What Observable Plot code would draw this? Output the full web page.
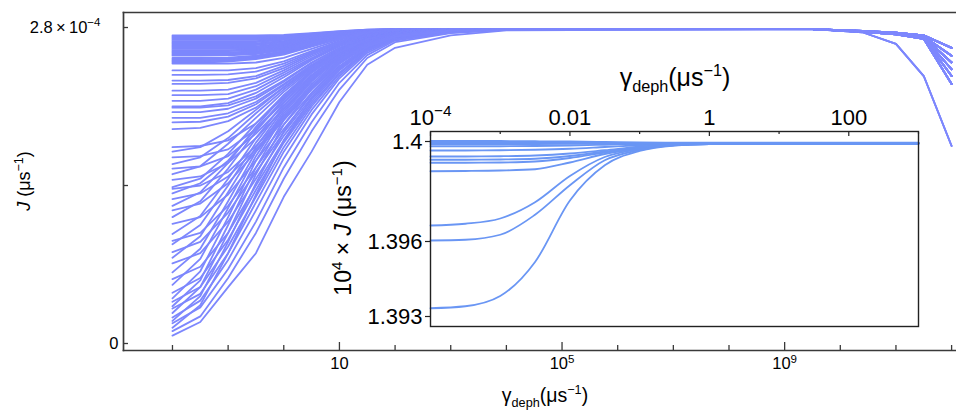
<!DOCTYPE html>
<html>
<head>
<meta charset="utf-8">
<script src="https://cdn.jsdelivr.net/npm/d3@7"></script>
<script src="https://cdn.jsdelivr.net/npm/@observablehq/plot@0.6"></script>
<style>
  html, body { margin: 0; padding: 0; background: #fff; }
  #wrap { position: relative; width: 956px; height: 410px; font-family: "Liberation Sans", Arial, Helvetica, sans-serif; }
  #wrap svg { position: absolute; left: 0; top: 0; overflow: visible; }
</style>
</head>
<body>
<div id="wrap"></div>
<script>
// ---------------- MAIN PANEL DATA (J in units of 1e-4 µs^-1) ----------------
const riseX = [0.01, 0.0316, 0.1, 0.316, 1, 3.16, 10, 31.6, 100, 1000, 10000];
const tailX = [3.16e9, 2.5e10, 1e11, 3.16e11, 1e12];

const highCurves = [
  [2.73,2.73,2.73,2.73,2.735,2.75,2.767,2.78,2.785,2.785,2.785],
  [2.72,2.72,2.72,2.72,2.727,2.745,2.765,2.78,2.785,2.785,2.785],
  [2.71,2.71,2.71,2.71,2.72,2.74,2.762,2.778,2.785,2.785,2.785],
  [2.70,2.70,2.70,2.70,2.712,2.735,2.76,2.777,2.785,2.785,2.785],
  [2.69,2.69,2.69,2.69,2.705,2.73,2.757,2.776,2.785,2.785,2.785],
  [2.68,2.68,2.68,2.68,2.698,2.725,2.755,2.775,2.785,2.785,2.785],
  [2.67,2.67,2.67,2.67,2.69,2.72,2.752,2.774,2.783,2.785,2.785],
  [2.66,2.66,2.66,2.66,2.682,2.715,2.75,2.773,2.783,2.785,2.785],
  [2.65,2.65,2.65,2.652,2.675,2.71,2.747,2.772,2.782,2.785,2.785],
  [2.64,2.64,2.64,2.643,2.668,2.705,2.745,2.771,2.782,2.785,2.785],
  [2.63,2.63,2.63,2.633,2.66,2.70,2.742,2.77,2.781,2.785,2.785],
  [2.62,2.62,2.62,2.624,2.652,2.695,2.74,2.769,2.781,2.785,2.785],
  [2.61,2.61,2.61,2.615,2.645,2.69,2.737,2.768,2.78,2.785,2.785],
  [2.60,2.60,2.60,2.606,2.638,2.685,2.735,2.767,2.78,2.785,2.785],
  [2.59,2.59,2.59,2.597,2.63,2.68,2.732,2.766,2.78,2.785,2.785],
  [2.58,2.58,2.58,2.588,2.622,2.675,2.73,2.765,2.78,2.785,2.785],
  [2.57,2.57,2.572,2.58,2.615,2.67,2.727,2.764,2.78,2.785,2.785],
  [2.56,2.56,2.562,2.572,2.608,2.665,2.725,2.763,2.78,2.785,2.785],
  [2.55,2.55,2.553,2.565,2.60,2.66,2.722,2.762,2.779,2.785,2.785],
  [2.53,2.53,2.534,2.55,2.59,2.65,2.717,2.76,2.778,2.785,2.785],
  [2.52,2.52,2.525,2.542,2.582,2.645,2.714,2.758,2.778,2.785,2.785],
  [2.51,2.51,2.516,2.535,2.575,2.64,2.71,2.757,2.777,2.785,2.785],
  [2.50,2.50,2.507,2.527,2.568,2.635,2.706,2.755,2.777,2.785,2.785],
  [2.49,2.49,2.498,2.52,2.56,2.63,2.70,2.753,2.776,2.785,2.785]
];
const midCurves = [
  [2.48,2.48,2.48,2.49,2.53,2.61,2.69,2.745,2.77,2.785,2.785],
  [2.42,2.42,2.42,2.44,2.50,2.59,2.68,2.74,2.77,2.785,2.785],
  [2.38,2.38,2.385,2.41,2.48,2.58,2.675,2.735,2.77,2.785,2.785],
  [2.33,2.33,2.335,2.37,2.46,2.57,2.665,2.73,2.765,2.785,2.785],
  [2.30,2.30,2.31,2.35,2.44,2.56,2.66,2.73,2.765,2.785,2.785],
  [2.24,2.24,2.25,2.31,2.42,2.545,2.65,2.725,2.765,2.785,2.785],
  [2.20,2.20,2.21,2.28,2.40,2.53,2.645,2.72,2.76,2.785,2.785],
  [2.15,2.15,2.17,2.25,2.38,2.52,2.64,2.72,2.76,2.785,2.785],
  [2.10,2.10,2.13,2.22,2.36,2.51,2.635,2.715,2.76,2.785,2.785],
  [2.09,2.09,2.11,2.19,2.33,2.49,2.62,2.71,2.755,2.78,2.785],
  [2.05,2.05,2.08,2.17,2.32,2.485,2.62,2.71,2.755,2.78,2.785],
  [2.00,2.00,2.04,2.14,2.30,2.47,2.61,2.705,2.755,2.78,2.785],
  [1.96,1.965,2.01,2.12,2.29,2.46,2.605,2.70,2.755,2.78,2.785],
  [1.90,1.91,1.97,2.09,2.27,2.45,2.60,2.70,2.75,2.78,2.785]
];
const lowMidCurves = [
  [1.74,1.75,1.80,1.95,2.18,2.40,2.57,2.69,2.75,2.78,2.785],
  [1.70,1.74,1.88,2.07,2.27,2.45,2.60,2.70,2.75,2.78,2.785],
  [1.65,1.66,1.72,1.90,2.14,2.37,2.56,2.68,2.745,2.78,2.785],
  [1.59,1.65,1.82,2.04,2.25,2.44,2.59,2.695,2.75,2.78,2.785],
  [1.55,1.57,1.66,1.86,2.11,2.35,2.55,2.675,2.745,2.78,2.785],
  [1.50,1.57,1.77,2.00,2.23,2.43,2.585,2.69,2.75,2.78,2.785],
  [1.45,1.48,1.60,1.82,2.08,2.33,2.54,2.67,2.74,2.78,2.785],
  [1.385,1.46,1.68,1.95,2.20,2.41,2.58,2.69,2.745,2.78,2.785]
];
const lowCurves = [
  [1.37,1.40,1.52,1.75,2.02,2.28,2.50,2.65,2.73,2.775,2.785],
  [1.33,1.42,1.62,1.90,2.16,2.38,2.56,2.68,2.74,2.78,2.785],
  [1.28,1.33,1.48,1.72,2.00,2.27,2.49,2.645,2.73,2.775,2.785],
  [1.22,1.34,1.60,1.92,2.20,2.42,2.59,2.70,2.75,2.78,2.785],
  [1.18,1.24,1.42,1.70,1.98,2.25,2.48,2.64,2.725,2.775,2.785],
  [1.12,1.26,1.55,1.88,2.17,2.40,2.58,2.69,2.745,2.78,2.785],
  [1.06,1.12,1.32,1.62,1.94,2.22,2.46,2.63,2.72,2.77,2.785],
  [0.97,1.13,1.46,1.82,2.13,2.37,2.56,2.68,2.745,2.78,2.785],
  [0.91,0.98,1.22,1.56,1.90,2.20,2.45,2.625,2.72,2.77,2.785],
  [0.88,1.05,1.40,1.78,2.10,2.36,2.55,2.68,2.74,2.78,2.785],
  [0.81,0.90,1.16,1.52,1.87,2.18,2.44,2.62,2.715,2.77,2.785],
  [0.76,0.95,1.34,1.74,2.08,2.34,2.54,2.675,2.74,2.78,2.785],
  [0.71,0.80,1.08,1.46,1.84,2.16,2.43,2.615,2.715,2.77,2.785],
  [0.63,0.84,1.26,1.70,2.06,2.33,2.54,2.67,2.74,2.78,2.785],
  [0.57,0.68,0.98,1.40,1.80,2.14,2.42,2.61,2.71,2.77,2.785],
  [0.52,0.75,1.20,1.66,2.04,2.32,2.53,2.67,2.74,2.78,2.785],
  [0.45,0.58,0.92,1.36,1.78,2.12,2.40,2.60,2.71,2.765,2.785],
  [0.40,0.64,1.12,1.62,2.02,2.30,2.52,2.665,2.735,2.775,2.785],
  [0.37,0.50,0.86,1.30,1.74,2.10,2.39,2.60,2.705,2.765,2.785],
  [0.33,0.56,1.05,1.56,1.98,2.28,2.51,2.66,2.735,2.775,2.785],
  [0.31,0.44,0.80,1.25,1.70,2.07,2.37,2.59,2.70,2.76,2.785],
  [0.27,0.50,0.98,1.50,1.94,2.26,2.50,2.655,2.73,2.775,2.785],
  [0.23,0.38,0.74,1.18,1.64,2.03,2.35,2.575,2.695,2.76,2.785],
  [0.20,0.42,0.90,1.42,1.88,2.22,2.48,2.645,2.73,2.775,2.785],
  [0.18,0.32,0.66,1.08,1.56,1.96,2.31,2.555,2.685,2.755,2.78],
  [0.14,0.34,0.80,1.32,1.80,2.17,2.45,2.63,2.72,2.77,2.785],
  [0.11,0.24,0.58,0.98,1.46,1.88,2.25,2.53,2.67,2.75,2.78],
  [0.07,0.19,0.50,0.80,1.30,1.70,2.14,2.47,2.62,2.73,2.775]
];
// high-dephasing tails (values at tailX); 0 = steep drop, 1..6 = gentle drops
const tails = [
  [2.785, 2.758, 2.655, 2.37, 1.75],
  [2.785, 2.770, 2.755, 2.730, 2.62],
  [2.785, 2.768, 2.750, 2.720, 2.55],
  [2.785, 2.766, 2.748, 2.715, 2.49],
  [2.785, 2.765, 2.745, 2.710, 2.43],
  [2.785, 2.764, 2.742, 2.705, 2.37],
  [2.785, 2.762, 2.740, 2.700, 2.30]
];
const highTail   = [1,3,5,2,0,4,6,1,3,5,2,4,6,1,3,5,2,4,6,1,3,5,2,4];
const midTail    = [6,1,3,5,2,4,6,0,1,3,5,2,4,6];
const lowMidTail = [1,3,5,2,4,6,1,3];
const lowTail    = [5,2,4,6,1,3,5,2,4,0,6,1,3,5,2,4,6,1,3,5,2,4,6,1,3,5,2,4];

const mainXTicksMajor = [10, 1e5, 1e9];
const mainXTickLabels = ["10", "10^{5}", "10^{9}"];
const mainXTicksMinor = [0.01,0.1,1,100,1000,1e4,1e6,1e7,1e8,1e10,1e11,1e12];
const mainYTicks = [0, 1.4, 2.8];
const mainYTickLabels = ["0", "", "2.8\u2009×\u200910^{−4}"];

// ---------------- INSET DATA (10^4 × J) ----------------
const insetX = [1e-4, 3.16e-4, 1e-3, 3.16e-3, 0.01, 0.0316, 0.1, 0.316, 1, 10, 100, 1000];
const insetCurves = [
  [1.39333,1.39341,1.39382,1.39518,1.39764,1.39905,1.39962,1.39984,1.39990,1.39992,1.39992,1.39992],
  [1.39604,1.39607,1.39627,1.39707,1.39825,1.39925,1.39966,1.39985,1.39990,1.39992,1.39992,1.39992],
  [1.39664,1.39671,1.39692,1.39757,1.39862,1.39938,1.39970,1.39986,1.39990,1.39992,1.39992,1.39992],
  [1.39881,1.39882,1.39884,1.39889,1.39916,1.39950,1.39972,1.39986,1.39990,1.39992,1.39992,1.39992],
  [1.39915,1.39915,1.39916,1.39920,1.39934,1.39956,1.39975,1.39987,1.39991,1.39992,1.39992,1.39992],
  [1.39927,1.39927,1.39928,1.39931,1.39942,1.39960,1.39977,1.39988,1.39991,1.39992,1.39992,1.39992],
  [1.39940,1.39940,1.39941,1.39944,1.39952,1.39965,1.39979,1.39988,1.39991,1.39992,1.39992,1.39992],
  [1.39964,1.39964,1.39965,1.39967,1.39971,1.39978,1.39985,1.39990,1.39992,1.39993,1.39993,1.39993],
  [1.39981,1.39981,1.39981,1.39982,1.39984,1.39987,1.39990,1.39992,1.39993,1.39993,1.39993,1.39993],
  [1.39990,1.39990,1.39990,1.39990,1.39991,1.39992,1.39993,1.39993,1.39993,1.39993,1.39993,1.39993],
  [1.39997,1.39997,1.39997,1.39997,1.39996,1.39995,1.39994,1.39994,1.39994,1.39994,1.39994,1.39994],
  [1.40002,1.40002,1.40002,1.40001,1.40000,1.39998,1.39996,1.39995,1.39995,1.39995,1.39995,1.39995]
];
const insetXTicksMajor = [1e-4, 0.01, 1, 100];
const insetXTickLabels = ["10^{−4}", "0.01", "1", "100"];
const insetXTicksMinor = [1e-3, 0.1, 10, 1000];
const insetYTicks = [1.393, 1.396, 1.4];
const insetYTickLabels = ["1.393", "1.396", "1.4"];

// ---------------- build tables ----------------
const mainData = [];
let cid = 0;
[[highCurves, highTail], [midCurves, midTail], [lowMidCurves, lowMidTail], [lowCurves, lowTail]].forEach(([rows, tIdx]) => {
  rows.forEach((row, i) => {
    row.forEach((v, j) => mainData.push({id: cid, x: riseX[j], J: v}));
    tails[tIdx[i]].forEach((v, j) => mainData.push({id: cid, x: tailX[j], J: v}));
    cid++;
  });
});
const insetData = [];
insetCurves.forEach((row, i) => row.forEach((v, j) => insetData.push({id: i, x: insetX[j], J: v})));

// ---------------- rich-text helper (super/subscripts) ----------------
function rich(sel, str, fs, subScale = 0.7) {
  sel.text(null);
  const re = /([_^])\{([^}]*)\}/g;
  let last = 0, m, shift = 0;
  const add = (t, kind) => {
    if (!t) return;
    const ts = sel.append("tspan").text(t);
    const target = kind === "^" ? -0.4 * fs : kind === "_" ? 0.25 * fs : 0;
    const dy = target - shift;
    if (dy) ts.attr("dy", dy);
    shift = target;
    if (kind) ts.attr("font-size", fs * subScale);
  };
  while ((m = re.exec(str))) { add(str.slice(last, m.index)); add(m[2], m[1]); last = re.lastIndex; }
  add(str.slice(last));
}
function fixRich(svg, fs) {
  d3.select(svg).selectAll("text").each(function () {
    const s = this.textContent;
    if (s.startsWith("2.8")) d3.select(this).attr("dx", -18);
    if (s.includes("^{") || s.includes("_{")) rich(d3.select(this), s, fs);
  });
}

const FONT = '"Liberation Sans", Arial, Helvetica, sans-serif';
const AX = "#3a3a3a";
const mainColor = "#7d87fd";
const insetColor = "#6a96f4";

// ---------------- main plot ----------------
const main = Plot.plot({
  width: 956, height: 410,
  marginLeft: 123, marginRight: 1, marginTop: 12, marginBottom: 60,
  style: {fontFamily: FONT, fontSize: "16.5px", color: "#000", background: "transparent", overflow: "visible"},
  x: {type: "log", domain: [10 ** -2.88, 10 ** 12.07]},
  y: {domain: [-0.062, 2.933]},
  marks: [
    Plot.line(mainData, {x: "x", y: "J", z: "id", stroke: mainColor, strokeWidth: 1.8}),
    Plot.frame({anchor: "top", stroke: AX, strokeWidth: 1.7}),
    Plot.frame({anchor: "left", stroke: AX, strokeWidth: 1.7}),
    Plot.frame({anchor: "bottom", stroke: AX, strokeWidth: 1.7}),
    Plot.axisY({ticks: mainYTicks, tickSize: -5, tickPadding: 10, stroke: AX, strokeWidth: 1.3, label: null,
      tickFormat: (d) => mainYTickLabels[mainYTicks.indexOf(d)], fontSize: 16.5}),
    Plot.axisX({ticks: mainXTicksMinor, tickSize: -5, tickPadding: 0, stroke: AX, strokeWidth: 1.3, label: null, tickFormat: () => ""}),
    Plot.axisX({ticks: mainXTicksMajor, tickSize: -8, tickPadding: 15, stroke: AX, strokeWidth: 1.3, label: null,
      tickFormat: (d) => mainXTickLabels[mainXTicksMajor.indexOf(d)], fontSize: 16.5})
  ]
});
fixRich(main, 16.5);
// axis titles
const ms = d3.select(main);
rich(ms.append("text").attr("x", 545).attr("y", 402).attr("text-anchor", "middle")
  .attr("font-size", 19.5).attr("font-family", FONT), "γ_{deph}(μs^{−1})", 19.5, 0.65);
const yl = ms.append("text").attr("transform", "translate(30,181) rotate(-90)").attr("text-anchor", "middle")
  .attr("font-size", 18).attr("font-family", FONT);
yl.append("tspan").attr("font-style", "italic").text("J");
yl.append("tspan").text(" (μs");
yl.append("tspan").attr("dy", -7).attr("font-size", 12.5).text("−1");
yl.append("tspan").attr("dy", 7).text(")");
document.getElementById("wrap").appendChild(main);

// ---------------- inset plot ----------------
const IL = 320, IT = 55;
const inset = Plot.plot({
  width: 600, height: 273,
  marginLeft: 110, marginTop: 76, marginRight: 2, marginBottom: 2,
  style: {fontFamily: FONT, fontSize: "22px", color: "#000", background: "transparent", overflow: "visible"},
  x: {type: "log", domain: [1e-4, 1e3]},
  y: {domain: [1.3926, 1.4004]},
  marks: [
    Plot.line(insetData, {x: "x", y: "J", z: "id", stroke: insetColor, strokeWidth: 1.8, curve: "monotone-x"}),
    Plot.frame({stroke: "#222", strokeWidth: 1.4}),
    Plot.axisY({ticks: insetYTicks, tickSize: 5, tickPadding: 3, stroke: "#222", strokeWidth: 1.2, label: null,
      tickFormat: (d) => insetYTickLabels[insetYTicks.indexOf(d)], fontSize: 22}),
    Plot.axisX({anchor: "top", ticks: insetXTicksMinor, tickSize: -2, tickPadding: 0, stroke: "#222", strokeWidth: 1.2, label: null, tickFormat: () => ""}),
    Plot.axisX({anchor: "top", ticks: insetXTicksMajor, tickSize: -4, tickPadding: 11, stroke: "#222", strokeWidth: 1.2, label: null,
      tickFormat: (d) => insetXTickLabels[insetXTicksMajor.indexOf(d)], fontSize: 22})
  ]
});
fixRich(inset, 22);
const is = d3.select(inset);
rich(is.append("text").attr("x", 675 - IL).attr("y", 86 - IT).attr("text-anchor", "middle")
  .attr("font-size", 25).attr("font-family", FONT), "γ_{deph}(μs^{−1})", 25, 0.65);
const iyl = is.append("text").attr("transform", `translate(${351 - IL},${228 - IT}) rotate(-90)`).attr("text-anchor", "middle")
  .attr("font-size", 23).attr("font-family", FONT);
iyl.append("tspan").text("10");
iyl.append("tspan").attr("dy", -9).attr("font-size", 15).text("4");
iyl.append("tspan").attr("dy", 9).text(" × ");
iyl.append("tspan").attr("font-style", "italic").text("J");
iyl.append("tspan").text(" (μs");
iyl.append("tspan").attr("dy", -9).attr("font-size", 15).text("−1");
iyl.append("tspan").attr("dy", 9).text(")");
inset.style.left = IL + "px";
inset.style.top = IT + "px";
document.getElementById("wrap").appendChild(inset);
</script>
</body>
</html>
